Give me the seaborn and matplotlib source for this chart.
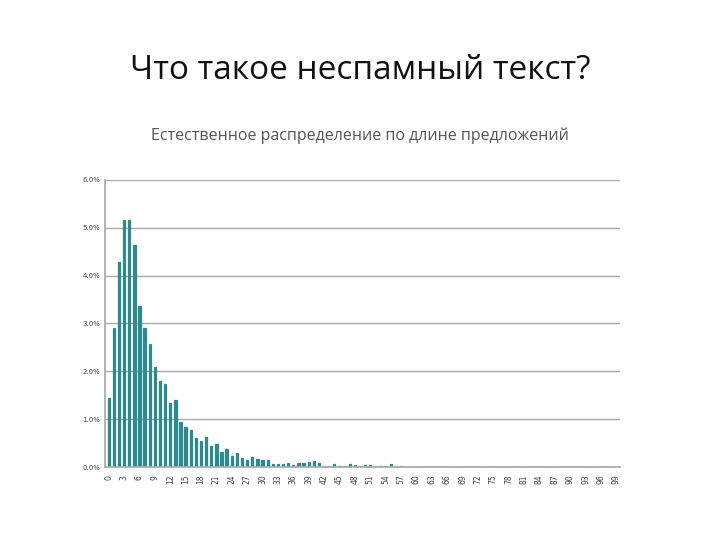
import matplotlib
matplotlib.use("Agg")
import matplotlib.pyplot as plt
import seaborn as sns
import pandas as pd
from matplotlib.ticker import FuncFormatter

lengths = list(range(100))
values = [1.45, 2.9, 4.28, 5.17, 5.17, 4.64, 3.37, 2.9, 2.57, 2.1,
          1.8, 1.73, 1.34, 1.4, 0.94, 0.84, 0.77, 0.61, 0.55, 0.63,
          0.44, 0.49, 0.31, 0.38, 0.24, 0.29, 0.2, 0.15, 0.21, 0.17,
          0.14, 0.14, 0.06, 0.06, 0.07, 0.08, 0.05, 0.09, 0.09, 0.1,
          0.12, 0.08, 0.03, 0.03, 0.07, 0.02, 0.02, 0.06, 0.04, 0.02,
          0.04, 0.05, 0.03, 0.02, 0.02, 0.06, 0.02, 0.03, 0.01, 0.01] + [0.01] * 40
title = "Что такое неспамный текст?"
subtitle = "Естественное распределение по длине предложений"

sns.set_theme(style="white")
plt.rcParams['font.family'] = ['DejaVu Sans']
fig = plt.figure(figsize=(7.2, 5.4), dpi=100)
ax = fig.add_axes([0.146, 0.135, 0.715, 0.532])
df = pd.DataFrame({"len": lengths, "val": values})
sns.barplot(data=df, x="len", y="val", color="#2f8a8e", width=0.45, ax=ax,
            saturation=1, edgecolor="#2f8a8e", linewidth=0.9)
ax.set_ylim(0, 6.0)
ax.set_yticks([0, 1, 2, 3, 4, 5, 6])
ax.yaxis.set_major_formatter(FuncFormatter(lambda v, p: f"{v:.1f}%"))
ax.tick_params(axis='y', labelsize=5, colors="#444444", length=0)
ax.set_xticks(range(0, 100, 3))
ax.set_xticklabels([str(i) for i in range(0, 100, 3)], rotation=90, fontsize=5.5, color="#444444")
ax.tick_params(axis='x', length=2, width=0.5, color="#999999")
ax.set_xlim(-0.7, 99.7)
ax.grid(axis='y', color="#aaaaaa", linewidth=1)
ax.set_axisbelow(True)
for s in ["top", "right"]:
    ax.spines[s].set_visible(False)
ax.spines["left"].set_color("#aaaaaa")
ax.spines["bottom"].set_color("#aaaaaa")
ax.set_xlabel("")
ax.set_ylabel("")
fig.text(0.5, 0.87, title, ha="center", va="center", fontsize=24, family="Open Sans", color="#111111")
fig.text(0.5, 0.748, subtitle, ha="center", va="center", fontsize=11.5, family="Open Sans", color="#555555")
fig.savefig("out.png", dpi=100)
